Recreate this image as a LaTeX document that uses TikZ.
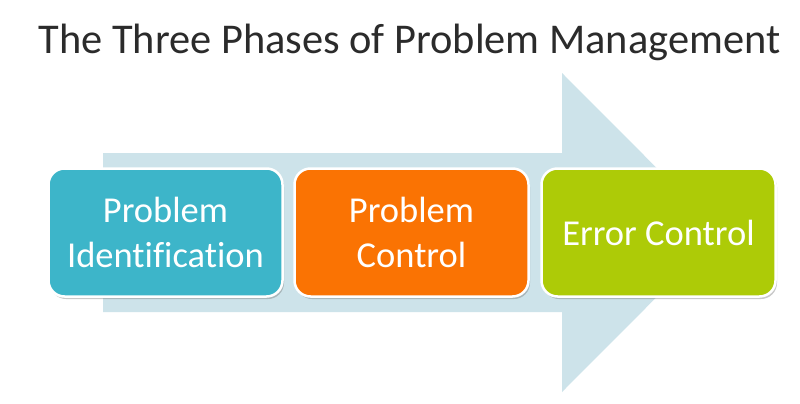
\documentclass[tikz,border=0pt]{standalone}
\usepackage{fontspec}
\setmainfont{Carlito}[Ligatures=NoCommon]
\usetikzlibrary{shadows}
\definecolor{arrowbg}{HTML}{CDE3EA}
\definecolor{phaseblue}{HTML}{3DB5C9}
\definecolor{phaseorange}{HTML}{FA7303}
\definecolor{phasegreen}{HTML}{ADCB07}
\definecolor{titlegray}{HTML}{2B2B2B}
\tikzset{
  phase/.style={draw=white, line width=2.5pt, rounded corners=16pt,
    minimum width=234pt, minimum height=128pt, text=white,
    font=\fontsize{36.5}{45}\selectfont, align=center,
    drop shadow={shadow xshift=1.5pt, shadow yshift=-2.5pt, opacity=0.35, fill=black!60}},
}
\begin{document}
\begin{tikzpicture}[x=1pt,y=-1pt]
\useasboundingbox[fill=white] (0,0) rectangle (800,404);
% big background arrow
\fill[arrowbg] (103,153) -- (562,153) -- (562,73) -- (721,232.5) -- (562,392) -- (562,312) -- (103,312) -- cycle;
\node[anchor=base, text=titlegray, font=\fontsize{42.4}{48}\selectfont] (title) at (409.5,54) {The Three Phases of Problem Management};
\node[phase, fill=phaseblue] (p1) at (165.5,232.5) {Problem\\Identification};
\node[phase, fill=phaseorange] (p2) at (411.5,232.5) {Problem\\Control};
\node[phase, fill=phasegreen] (p3) at (658.5,232.5) {Error Control};
\end{tikzpicture}
\end{document}
